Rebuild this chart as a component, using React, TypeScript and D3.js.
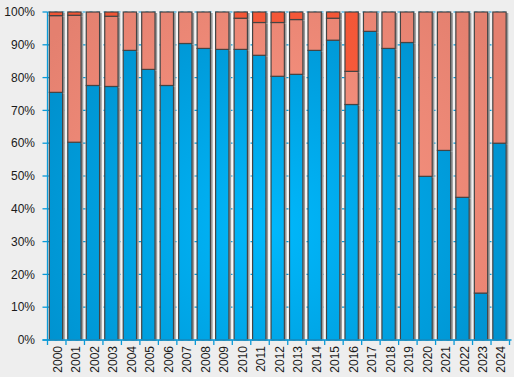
import React from "react";
import * as d3 from "d3";

const years = ["2000","2001","2002","2003","2004","2005","2006","2007","2008","2009","2010","2011","2012","2013","2014","2015","2016","2017","2018","2019","2020","2021","2022","2023","2024"];
const blueValues = [75.5, 60.3, 77.6, 77.3, 88.3, 82.5, 77.6, 90.4, 88.9, 88.6, 88.6, 86.8, 80.4, 81.0, 88.3, 91.4, 71.8, 94.1, 88.9, 90.7, 49.9, 57.8, 43.5, 14.3, 60.0];
const redValues = [1.1, 1.0, 0, 1.3, 0, 0, 0, 0, 0, 0, 1.9, 3.2, 3.2, 2.3, 0, 1.9, 18.1, 0, 0, 0, 0, 0, 0, 0, 0];
const salmonValues = blueValues.map((b, i) => 100 - b - redValues[i]);
const yTicks = [0, 10, 20, 30, 40, 50, 60, 70, 80, 90, 100];
const seriesKeys = ["blue", "salmon", "red"];

const W = 514, H = 377;
const left = 47.5, right = 509.5, top = 12, bottom = 340;

export default function App() {
  const x = d3.scaleBand<string>().domain(years).range([left, right]).padding(0);
  const y = d3.scaleLinear().domain([0, 100]).range([bottom, top]);
  const rows = years.map((yr, i) => ({ year: yr, blue: blueValues[i], salmon: salmonValues[i], red: redValues[i] }));
  const stacked = d3.stack<any>().keys(seriesKeys)(rows);
  const bw = x.bandwidth();
  const barW = bw * 0.72;
  const barOff = 1.8;
  const font = "'Liberation Sans', Arial, sans-serif";
  const axisColor = "#0a9ad8";

  return (
    <svg width={W} height={H} style={{ position: "fixed", left: 0, top: 0 }}>
      <defs>
        <radialGradient id="gBlue" gradientUnits="userSpaceOnUse" cx={270} cy={230} r={290}>
          <stop offset="0" stopColor="#00b8fc" />
          <stop offset="1" stopColor="#008cc8" />
        </radialGradient>
        <radialGradient id="gSalmon" gradientUnits="userSpaceOnUse" cx={270} cy={230} r={290}>
          <stop offset="0" stopColor="#ff9a86" />
          <stop offset="1" stopColor="#e4806f" />
        </radialGradient>
        <radialGradient id="gRed" gradientUnits="userSpaceOnUse" cx={270} cy={230} r={290}>
          <stop offset="0" stopColor="#ff5f40" />
          <stop offset="1" stopColor="#f05535" />
        </radialGradient>
        <linearGradient id="gBg" x1="0" y1="0" x2="1" y2="0">
          <stop offset="0" stopColor="#f1f1f1" />
          <stop offset="0.5" stopColor="#fafafa" />
          <stop offset="1" stopColor="#efefef" />
        </linearGradient>
      </defs>
      <rect x={0} y={0} width={W} height={H} fill="#eeeeee" />
      <rect x={left} y={top} width={right - left} height={bottom - top} fill="url(#gBg)" />
      {yTicks.map(t => (
        <line key={"g" + t} x1={left} x2={right} y1={y(t)} y2={y(t)} stroke={axisColor} strokeWidth={1.2} strokeDasharray="3,4" />
      ))}
      {stacked.map((s, si) => (
        <g key={seriesKeys[si]}>
          {s.map((d, i) => {
            const h = y(d[0]) - y(d[1]);
            if (h <= 0.01) return null;
            const fill = si === 0 ? "url(#gBlue)" : si === 1 ? "url(#gSalmon)" : "url(#gRed)";
            return (
              <g key={i}>
                <rect x={x(years[i])! + barOff + barW} y={y(d[1]) + 1} width={2.2} height={h} fill="#9a9a9a" />
                <rect x={x(years[i])! + barOff} y={y(d[1])} width={barW} height={h} fill={fill} stroke="#444" strokeWidth={1.2} />
              </g>
            );
          })}
        </g>
      ))}
      <line x1={left} x2={left} y1={top} y2={bottom} stroke={axisColor} strokeWidth={1.3} />
      <line x1={left - 5} x2={right + 2} y1={bottom} y2={bottom} stroke={axisColor} strokeWidth={1.3} />
      {yTicks.map(t => (
        <g key={"t" + t}>
          <line x1={left - 5} x2={left} y1={y(t)} y2={y(t)} stroke={axisColor} strokeWidth={1.3} />
          <text x={35} y={y(t)} dy="0.35em" textAnchor="end" fontFamily={font} fontSize={12} fill="#1a1a1a">{t + "%"}</text>
        </g>
      ))}
      {years.concat(["end"]).map((yr, i) => {
        const xx = i < years.length ? x(yr)! : right;
        return <line key={"xt" + i} x1={xx} x2={xx} y1={bottom} y2={bottom + 5} stroke={axisColor} strokeWidth={1.3} />;
      })}
      {years.map(yr => {
        const cx = x(yr)! + bw / 2 + 1;
        return (
          <text key={"xl" + yr} transform={`translate(${cx},${bottom + 6}) rotate(-90)`} dy="0.35em" textAnchor="end" fontFamily={font} fontSize={12} fill="#1a1a1a">{yr}</text>
        );
      })}
    </svg>
  );
}
